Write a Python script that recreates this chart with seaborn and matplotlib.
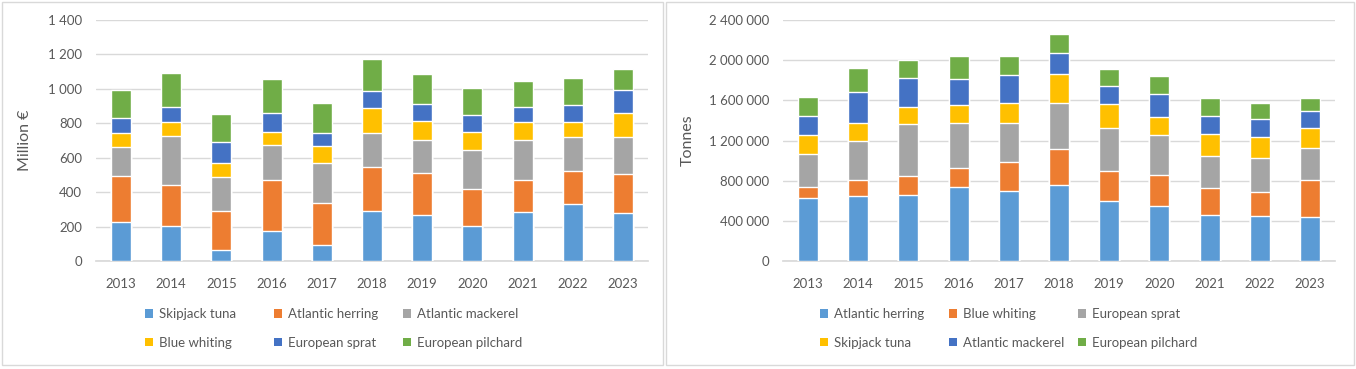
import numpy as np
import matplotlib
matplotlib.use("Agg")
import matplotlib.pyplot as plt
from matplotlib.patches import Patch, Rectangle
from matplotlib.ticker import FuncFormatter, MultipleLocator
import seaborn as sns

years = ["2013", "2014", "2015", "2016", "2017", "2018", "2019", "2020", "2021", "2022", "2023"]

# left panel: value, million EUR
value_species = ["Skipjack tuna", "Atlantic herring", "Atlantic mackerel",
                 "Blue whiting", "European sprat", "European pilchard"]
skipjack_value = [228, 203, 64, 176, 95, 288, 265, 203, 283, 331, 279]
herring_value = [266, 238, 224, 294, 244, 258, 244, 215, 187, 190, 224]
mackerel_value = [168, 287, 202, 202, 228, 199, 196, 225, 235, 197, 215]
whiting_value = [79, 79, 77, 75, 101, 142, 106, 106, 102, 89, 140]
sprat_value = [92, 89, 122, 111, 73, 98, 99, 99, 85, 97, 133]
pilchard_value = [162, 198, 163, 197, 177, 190, 178, 155, 152, 161, 124]

# right panel: volume, tonnes
volume_species = ["Atlantic herring", "Blue whiting", "European sprat",
                  "Skipjack tuna", "Atlantic mackerel", "European pilchard"]
herring_volume = [631000, 644000, 654000, 740000, 694000, 757000, 598000, 551000, 461000, 452000, 438000]
whiting_volume = [103000, 163000, 193000, 186000, 295000, 362000, 302000, 302000, 266000, 235000, 369000]
sprat_volume = [328000, 385000, 521000, 448000, 385000, 458000, 428000, 402000, 322000, 342000, 322000]
skipjack_volume = [193000, 182000, 169000, 180000, 203000, 282000, 239000, 179000, 213000, 209000, 192000]
mackerel_volume = [186000, 309000, 282000, 259000, 272000, 209000, 179000, 233000, 186000, 173000, 170000]
pilchard_volume = [189000, 236000, 186000, 229000, 196000, 193000, 166000, 179000, 172000, 163000, 129000]

colors = ["#5B9BD5", "#ED7D31", "#A5A5A5", "#FFC000", "#4472C4", "#70AD47"]
text_col = "#595959"
grid_col = "#D9D9D9"

sns.set_theme(style="white")
plt.rcParams["font.family"] = ["Lato", "DejaVu Sans"]

W, H = 1356, 369
fig = plt.figure(figsize=(W / 100, H / 100), dpi=100)


def px_axes(x0, y_top, w, y_bot):
    return fig.add_axes([x0 / W, (H - y_bot) / H, w / W, (y_bot - y_top) / H])


def space_fmt(v, pos):
    return f"{v:,.0f}".replace(",", " ")


def stacked(ax, series, ymax, step, ylabel):
    tops = np.cumsum(np.array(series, dtype=float), axis=0)
    # tallest first, shorter layers painted over it
    for i in reversed(range(len(series))):
        sns.barplot(x=years, y=tops[i], color=colors[i], saturation=1,
                    width=0.4, errorbar=None, ax=ax, zorder=3)
    ax.set_ylim(0, ymax)
    ax.set_xlim(-0.5, len(years) - 0.5)
    ax.yaxis.set_major_locator(MultipleLocator(step))
    ax.yaxis.set_major_formatter(FuncFormatter(space_fmt))
    ax.grid(axis="y", color=grid_col, linewidth=1, zorder=0)
    ax.set_axisbelow(True)
    for s in ["top", "right", "left"]:
        ax.spines[s].set_visible(False)
    ax.spines["bottom"].set_color(grid_col)
    ax.tick_params(axis="both", length=0, colors=text_col, labelsize=9.5)
    ax.tick_params(axis="y", pad=10)
    ax.tick_params(axis="x", pad=12)
    ax.set_xlabel("")
    ax.set_ylabel(ylabel, color=text_col, fontsize=11.5)


ax1 = px_axes(96, 20, 552, 261)
stacked(ax1, [skipjack_value, herring_value, mackerel_value,
              whiting_value, sprat_value, pilchard_value], 1400, 200, "Million €")
ax1.yaxis.set_label_coords((32 - 96) / 552, 0.5)

ax2 = px_axes(783, 20, 552, 261)
stacked(ax2, [herring_volume, whiting_volume, sprat_volume,
              skipjack_volume, mackerel_volume, pilchard_volume], 2400000, 400000, "Tonnes")
ax2.yaxis.set_label_coords((695 - 783) / 552, 0.5)


def add_legend(names, xs):
    handles = [Patch(facecolor=c, edgecolor="none") for c in colors]
    for j in range(3):
        fig.legend([handles[j], handles[j + 3]], [names[j], names[j + 3]],
                   loc="center left", bbox_to_anchor=(xs[j] / W, (H - 328.5) / H),
                   frameon=False, fontsize=9.5, labelcolor=text_col,
                   handlelength=0.6, handleheight=0.6, handletextpad=0.45,
                   labelspacing=1.25, borderpad=0, borderaxespad=0)


add_legend(value_species, [145, 274, 403])
add_legend(volume_species, [820, 949, 1078])

# panel frames
for x0, x1 in [(1.5, 662.5), (666, 1353.5)]:
    fig.patches.append(Rectangle((x0 / W, (H - 364.5) / H), (x1 - x0) / W, 362.5 / H,
                                 transform=fig.transFigure, fill=False,
                                 edgecolor=grid_col, linewidth=1))

fig.savefig("out.png", dpi=100)
